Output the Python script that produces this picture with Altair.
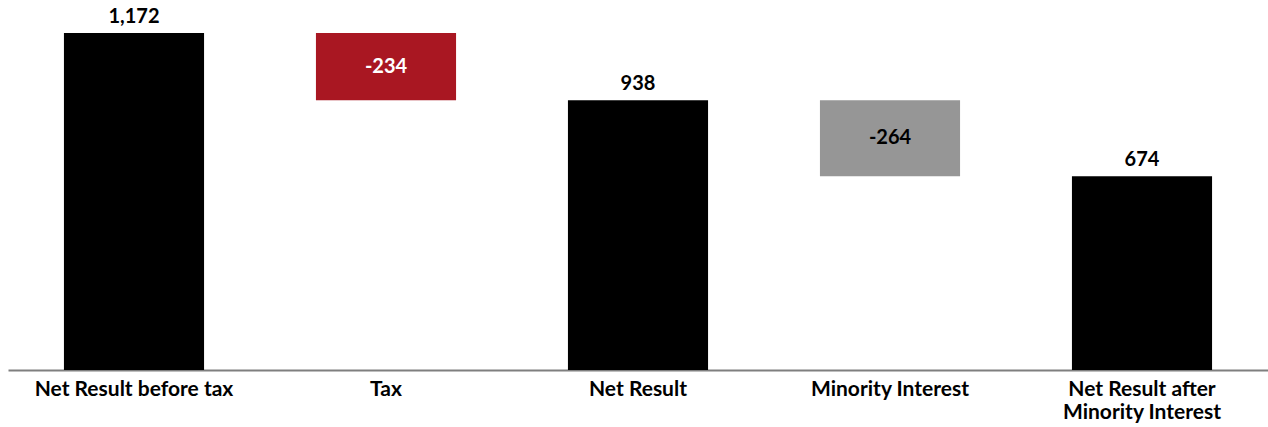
import altair as alt
import pandas as pd

categories = ["Net Result before tax", "Tax", "Net Result", "Minority Interest", "Net Result after|Minority Interest"]
starts = [0, 1172, 0, 938, 0]
ends = [1172, 938, 938, 674, 674]
labels = ["1,172", "-234", "938", "-264", "674"]
kinds = ["total", "tax", "total", "minority", "total"]

df = pd.DataFrame({"cat": categories, "start": starts, "end": ends, "label": labels, "kind": kinds})
df["mid"] = (df["start"] + df["end"]) / 2
df["top"] = df[["start", "end"]].max(axis=1)

FONT = "Lato"
x = alt.X("cat:N", sort=categories, title=None,
          scale=alt.Scale(paddingInner=0.444, paddingOuter=0.222),
          axis=alt.Axis(labelExpr="split(datum.label, '|')", labelAngle=0, labelFont=FONT,
                        labelFontSize=21, labelFontWeight="bold", labelColor="#000000",
                        labelPadding=8, labelLineHeight=23, ticks=False, domainColor="#7f7f7f",
                        domainWidth=2, labelLimit=300, labelBaseline="top"))
y_scale = alt.Scale(domain=[0, 1287], nice=False, zero=True)

base = alt.Chart(df)
bars = base.mark_bar().encode(
    x=x, y=alt.Y("start:Q", scale=y_scale, axis=None), y2="end:Q",
    color=alt.Color("kind:N", scale=alt.Scale(domain=["total", "tax", "minority"],
                                               range=["#000000", "#A91722", "#969696"]), legend=None),
)

top_text = base.transform_filter("datum.kind == 'total'").mark_text(
    font=FONT, fontSize=20, fontWeight="bold", baseline="bottom", dy=-6, color="#000000").encode(
    x=x, y=alt.Y("top:Q", scale=y_scale, axis=None), text="label:N")

mid_text = base.transform_filter("datum.kind != 'total'").mark_text(
    font=FONT, fontSize=20, fontWeight="bold", baseline="middle").encode(
    x=x, y=alt.Y("mid:Q", scale=y_scale, axis=None), text="label:N",
    color=alt.Color("kind:N", scale=alt.Scale(domain=["tax", "minority"], range=["#FFFFFF", "#000000"]), legend=None))

chart = alt.layer(bars, top_text, mid_text).resolve_scale(color="independent").properties(
    width=1260, height=370, padding={"left": 8, "top": 0, "right": 0, "bottom": 57},
    autosize=alt.AutoSizeParams(type="none"),
).configure_view(stroke=None)

chart.save("out.html", embed_options={"renderer": "svg", "actions": False})
